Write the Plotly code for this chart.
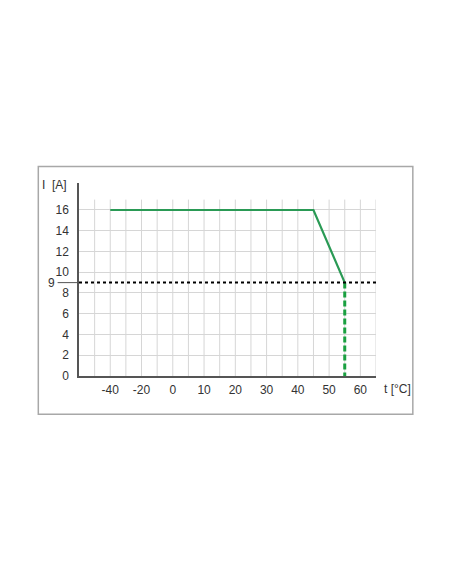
import numpy as np
import plotly.graph_objects as go

# derating curve: current vs ambient temperature
temp_c = [-40, 45, 55]
current_a = [16, 16, 9]
cutoff_temp = [55, 55]
cutoff_current = [9, 0]
current_limit = 9

# the x axis is schematic: tick labels are not evenly spaced in value
tick_temps = [-40, -20, 0, 10, 20, 30, 40, 50, 60]
tick_pos = [2, 4, 6, 8, 10, 12, 14, 16, 18]
y_ticks = [0, 2, 4, 6, 8, 10, 12, 14, 16]


def to_pos(t):
    return np.interp(t, tick_temps, tick_pos)


grid_col = '#d6d6d6'
axis_col = '#555555'
font = dict(family='Liberation Sans, Arial, sans-serif', size=12, color='#333333')

fig = go.Figure()

# vertical grid lines stop a bit above the top value
for p in range(1, 20):
    fig.add_shape(type='line', xref='x', yref='y', x0=p, x1=p, y0=0, y1=17,
                  line=dict(color=grid_col, width=1), layer='below')

fig.add_hline(y=current_limit, line=dict(color='black', width=2, dash='dot'))
fig.add_shape(type='line', xref='paper', yref='y', x0=-0.072, x1=0,
              y0=current_limit, y1=current_limit, line=dict(color='#555555', width=1))

fig.add_trace(go.Scatter(x=to_pos(temp_c), y=current_a, mode='lines',
                         line=dict(color='#2a9a55', width=2.2), showlegend=False))
fig.add_trace(go.Scatter(x=to_pos(cutoff_temp), y=cutoff_current, mode='lines',
                         line=dict(color='#1aa040', width=3, dash='6px,3px'), showlegend=False))

# outer frame
fig.add_shape(type='rect', xref='paper', yref='paper', x0=-0.137, x1=1.124, y0=-0.198, y1=1.085,
              line=dict(color='#a8a8a8', width=1.5))

fig.add_annotation(xref='paper', yref='y', x=-0.072, y=current_limit, text='9', showarrow=False,
                   xanchor='right', yanchor='middle', font=font, xshift=-1)
fig.add_annotation(xref='paper', yref='paper', x=-0.035, y=0.99, text='I  [A]', showarrow=False,
                   xanchor='right', yanchor='middle', font=font)
fig.add_annotation(xref='paper', yref='paper', x=1.02, y=-0.068, text='t [°C]', showarrow=False,
                   xanchor='left', yanchor='middle', font=font)

fig.update_xaxes(range=[0, 19], tickvals=tick_pos, ticktext=[str(t) for t in tick_temps],
                 showgrid=False, zeroline=False, showline=True, linecolor=axis_col, linewidth=1.5,
                 tickfont=font, ticks='', ticklabelstandoff=2)
fig.update_yaxes(range=[0, 18.6], tickvals=y_ticks, showgrid=True, gridcolor=grid_col, gridwidth=1,
                 zeroline=False, showline=True, linecolor=axis_col, linewidth=1.5,
                 tickfont=font, ticks='', ticklabelstandoff=6)
fig.update_layout(width=452, height=584, margin=dict(l=71, r=84, t=175, b=216),
                  plot_bgcolor='white', paper_bgcolor='white', showlegend=False)

fig.write_html("out.html")
